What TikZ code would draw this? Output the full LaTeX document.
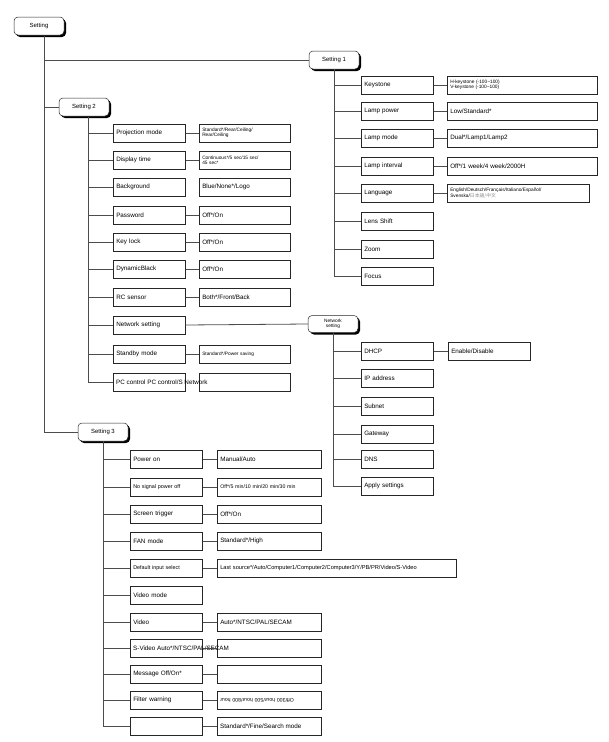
\documentclass[tikz,border=0pt]{standalone}
\usepackage{fontspec}
\usepackage{graphicx}
\setmainfont{Liberation Sans}
\newfontfamily\cjk{Noto Sans CJK SC}
\usetikzlibrary{shadows}
\tikzset{
  conn/.style={draw=black!70, line width=0.8pt},
  rnode/.style={draw=black!85, fill=white, rounded corners=4pt, minimum width=50pt,
    minimum height=18pt, inner sep=1pt, align=center, line width=0.5pt,
    font=\fontsize{6}{7}\selectfont,
    drop shadow={shadow xshift=2pt, shadow yshift=-2pt, fill=black, opacity=1}},
  cbox/.style={draw=black!85, fill=white, minimum height=18pt, inner xsep=3pt,
    inner ysep=0pt, text width=66pt, align=left, anchor=west, line width=0.5pt,
    font=\fontsize{6.3}{7}\selectfont,
    drop shadow={shadow xshift=1pt, shadow yshift=-1pt, fill=black!55, opacity=1}},
  obox/.style={cbox, text width=#1},
  small/.style={font=\fontsize{4.8}{5.4}\selectfont},
}
\begin{document}
\begin{tikzpicture}[x=1pt,y=-1pt]
\useasboundingbox (0,0) rectangle (609,742);
% top level nodes
\node[rnode] (set) at (39,26) {Setting};
\coordinate (setb) at (44,36);
\node[rnode] (s1) at (334,60) {Setting 1};
\node[rnode] (s2) at (84,107) {Setting 2};
\coordinate (s2b) at (88,117);
\node[rnode] (s3) at (103,432) {Setting 3};
\draw[conn] (setb) |- (s3.west);
\draw[conn] (setb |- s1.west) -- (s1.west);
\draw[conn] (setb |- s2.west) -- (s2.west);

% Setting 1
\node[cbox] (k) at (361,85) {Keystone};
\node[cbox] (lp) at (361,111) {Lamp power};
\node[cbox] (lm) at (361,138) {Lamp mode};
\node[cbox] (li) at (361,166) {Lamp interval};
\node[cbox] (lg) at (361,193) {Language};
\node[cbox] (ls) at (361,221) {Lens Shift};
\node[cbox] (zm) at (361,249) {Zoom};
\node[cbox] (fc) at (361,276) {Focus};
\node[obox=144pt, small] (ko) at (447,85) {H-keystone (-100\textasciitilde100)\\V-keystone (-100\textasciitilde100)};
\node[obox=144pt] (lpo) at (447,111) {Low/Standard*};
\node[obox=144pt] (lmo) at (447,138) {Dual*/Lamp1/Lamp2};
\node[obox=144pt] (lio) at (447,166) {Off*/1 week/4 week/2000H};
\node[obox=136pt, small] (lgo) at (447,193) {English/Deutsch/Français/Italiano/Español/\\Svenska/{\cjk\color{black!45}日本語/中文}};
\draw[conn] (s1.south) |- (fc.west);
\foreach \n in {k,lp,lm,li,lg,ls,zm} \draw[conn] (s1.south |- \n.west) -- (\n.west);
\foreach \a/\b in {k/ko,lp/lpo,lm/lmo,li/lio,lg/lgo} \draw[conn] (\a.east) -- (\b.west);

% Setting 2
\node[cbox] (pm) at (113,133) {Projection mode};
\node[cbox] (dt) at (113,160) {Display time};
\node[cbox] (bg) at (113,187) {Background};
\node[cbox] (pw) at (113,215) {Password};
\node[cbox] (kl) at (113,242) {Key lock};
\node[cbox] (db) at (113,269) {DynamicBlack};
\node[cbox] (rc) at (113,297) {RC sensor};
\node[cbox] (ns) at (113,325) {Network setting};
\node[cbox] (sm) at (113,354) {Standby mode};
\node[cbox] (pc) at (113,382) {};
\node[obox=85pt, small] (pmo) at (199,133) {Standard*/Rear/Ceiling/\\Rear/Ceiling};
\node[obox=85pt, small] (dto) at (199,160) {Continuous*/5 sec/15 sec/\\45 sec*};
\node[obox=85pt] (bgo) at (199,187) {Blue/None*/Logo};
\node[obox=85pt] (pwo) at (199,215) {Off*/On};
\node[obox=85pt] (klo) at (199,242) {Off*/On};
\node[obox=85pt] (dbo) at (199,269) {Off*/On};
\node[obox=85pt] (rco) at (199,297) {Both*/Front/Back};
\node[obox=85pt, small] (smo) at (199,354) {Standard*/Power saving};
\node[obox=85pt] (pco) at (199,382) {};
\node[anchor=west, inner sep=0pt, font=\fontsize{6.3}{7}\selectfont] (pct) at ([xshift=3pt]pc.west) {PC control PC control/S Network};
\draw[conn] (s2b) |- (pc.west);
\foreach \n in {pm,dt,bg,pw,kl,db,rc,ns,sm} \draw[conn] (s2b |- \n.west) -- (\n.west);
\foreach \a/\b in {pm/pmo,dt/dto,pw/pwo,kl/klo,db/dbo,rc/rco,sm/smo} \draw[conn] (\a.east) -- (\b.west);

% Network setting
\node[rnode, small, minimum width=50pt, minimum height=17pt] (nsn) at (333,324) {Network\\setting};
\draw[conn] (ns.east) -- (nsn.west);
\node[cbox] (dh) at (361,351) {DHCP};
\node[cbox] (ip) at (361,378) {IP address};
\node[cbox] (sn) at (361,406) {Subnet};
\node[cbox] (gw) at (361,434) {Gateway};
\node[cbox] (dn) at (361,459) {DNS};
\node[cbox] (ap) at (361,486) {Apply settings};
\node[obox=76pt] (dho) at (448,351) {Enable/Disable};
\draw[conn] (nsn.south) |- (ap.west);
\foreach \n in {dh,ip,sn,gw,dn} \draw[conn] (nsn.south |- \n.west) -- (\n.west);
\draw[conn] (dh.east) -- (dho.west);

% Setting 3
\node[cbox] (po) at (130,459) {Power on};
\node[cbox, font=\fontsize{5.4}{6}\selectfont] (nsp) at (130,487) {No signal power off};
\node[cbox] (st) at (130,514) {Screen trigger};
\node[cbox] (fm) at (130,541) {FAN mode};
\node[cbox, font=\fontsize{5.4}{6}\selectfont] (di) at (130,568) {Default input select};
\node[cbox] (vm) at (130,595) {Video mode};
\node[cbox] (vd) at (130,622) {Video};
\node[cbox] (sv) at (130,648) {};
\node[cbox] (ms) at (130,674) {Message Off/On*};
\node[cbox] (fw) at (130,700) {Filter warning};
\node[cbox] (bl) at (130,726) {};
\node[obox=98pt] (poo) at (217,459) {Manual/Auto};
\node[obox=98pt, font=\fontsize{5.2}{6}\selectfont] (nspo) at (217,487) {Off*/5 min/10 min/20 min/30 min};
\node[obox=98pt] (sto) at (217,514) {Off*/On};
\node[obox=98pt] (fmo) at (217,541) {Standard*/High};
\node[obox=233pt, font=\fontsize{5.7}{6.5}\selectfont] (dio) at (217,568) {Last source*/Auto/Computer1/Computer2/Computer3/Y/PB/PR/Video/S-Video};
\node[obox=98pt] (vdo) at (217,622) {Auto*/NTSC/PAL/SECAM};
\node[obox=98pt] (svo) at (217,648) {};
\node[obox=98pt] (mso) at (217,674) {};
\node[obox=98pt, font=\fontsize{5.2}{6}\selectfont] (fwo) at (217,700) {\rotatebox{180}{Off/300 hour/500 hour/800 hour}};
\node[obox=98pt] (blo) at (217,726) {};
\node[anchor=west, inner sep=0pt, font=\fontsize{6.3}{7}\selectfont] (svt) at ([xshift=3pt]sv.west) {S-Video Auto*/NTSC/PAL/SECAM};
\node[anchor=west, inner sep=0pt, font=\fontsize{6.3}{7}\selectfont] (blt) at ([xshift=3pt]blo.west) {Standard*/Fine/Search mode};
\draw[conn] (s3.south) |- (bl.west);
\foreach \n in {po,nsp,st,fm,di,vm,vd,sv,ms,fw} \draw[conn] (s3.south |- \n.west) -- (\n.west);
\foreach \a/\b in {po/poo,nsp/nspo,st/sto,fm/fmo,di/dio,vd/vdo,sv/svo,ms/mso,fw/fwo,bl/blo} \draw[conn] (\a.east) -- (\b.west);
\end{tikzpicture}
\end{document}
